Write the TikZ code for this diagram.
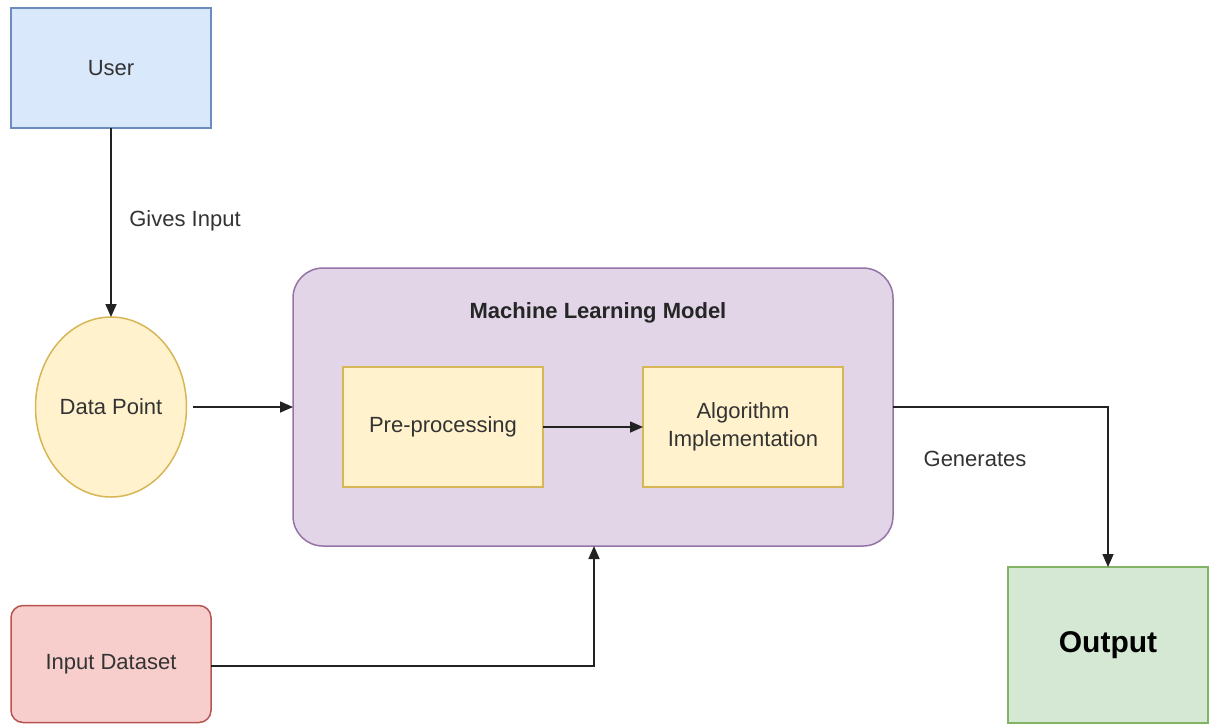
\documentclass[tikz,border=0pt]{standalone}
\usepackage{fontspec}
\setmainfont{Liberation Sans}
\usetikzlibrary{shapes.geometric,arrows.meta}
\definecolor{txt}{HTML}{333333}
\definecolor{bluefill}{HTML}{DAE8FC}\definecolor{blueline}{HTML}{6C8EBF}
\definecolor{yelfill}{HTML}{FFF2CC}\definecolor{yelline}{HTML}{D6B656}
\definecolor{purfill}{HTML}{E1D5E7}\definecolor{purline}{HTML}{9673A6}
\definecolor{grnfill}{HTML}{D5E8D4}\definecolor{grnline}{HTML}{82B366}
\definecolor{redfill}{HTML}{F8CECC}\definecolor{redline}{HTML}{B85450}
\definecolor{arrowc}{HTML}{222222}
\tikzset{
  base/.style={inner sep=0pt, outer sep=0pt, line width=1.5pt, text=txt, align=center,
    font=\fontsize{22}{28}\selectfont},
  bluebox/.style={base, draw=blueline, fill=bluefill, minimum width=200pt, minimum height=120pt},
  yelbox/.style={base, draw=yelline, fill=yelfill, minimum width=200pt, minimum height=120pt},
  ellip/.style={base, ellipse, draw=yelline, fill=yelfill, minimum width=151pt, minimum height=180pt},
  mlbox/.style={base, draw=purline, fill=purfill, rounded corners=30pt, minimum width=600pt, minimum height=278pt},
  outbox/.style={base, draw=grnline, fill=grnfill, minimum width=200pt, minimum height=156pt,
    font=\fontsize{30}{36}\selectfont\bfseries, text=black},
  inbox/.style={base, draw=redline, fill=redfill, rounded corners=12pt, minimum width=200pt, minimum height=117pt},
  conn/.style={draw=arrowc, line width=1.6pt, -{Triangle[length=13pt,width=11pt]}},
  lbl/.style={base, text=txt}
}
\begin{document}
\begin{tikzpicture}[x=1pt,y=-1pt]
\useasboundingbox (0,0) rectangle (1209,724);
\node[bluebox] (user) at (111,68) {User};
\node[ellip] (dp) at (111,407) {Data Point};
\node[mlbox] (ml) at (593,407) {};
\node[base, font=\fontsize{22}{28}\selectfont\bfseries, text=black!85] (mltitle) at (598,313) {Machine Learning Model};
\node[yelbox] (pre) at (443,427) {Pre-processing};
\node[yelbox] (algo) at (743,427) {Algorithm\\Implementation};
\node[outbox] (out) at (1108,645) {Output};
\node[inbox] (in) at (111,664) {Input Dataset};
\coordinate (c1) at (1108,407);
\coordinate (c2) at (594,666);
\draw[conn] (user.south) -- (dp.north);
\node[lbl] (gi) at (185,221) {Gives Input};
\draw[conn] ([xshift=6pt]dp.east) -- (ml.west);
\draw[conn] (pre.east) -- (algo.west);
\draw[conn] (ml.east) -- (c1) -- (out.north);
\node[lbl] (gen) at (975,459) {Generates};
\draw[conn] (in.east |- c2) -- (c2) -- (c2 |- ml.south);
\end{tikzpicture}
\end{document}
